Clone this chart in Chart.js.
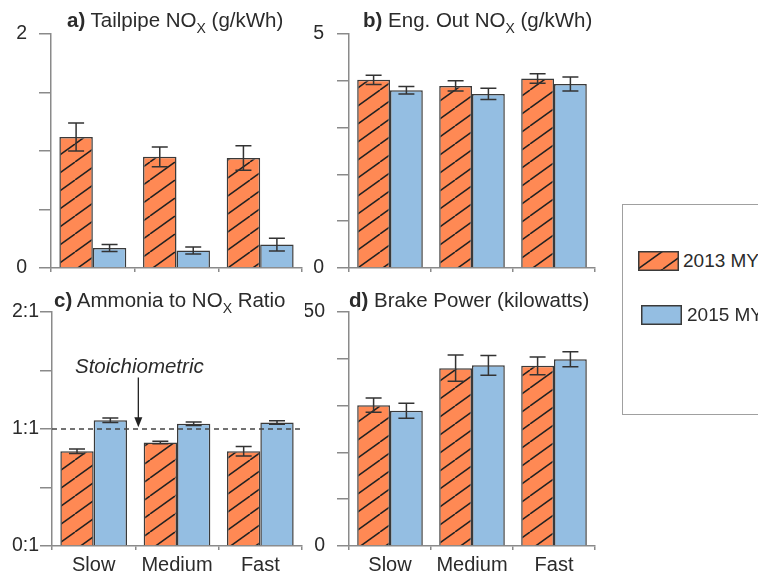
<!DOCTYPE html>
<html><head><meta charset="utf-8">
<script src="https://cdn.jsdelivr.net/npm/chart.js@4/dist/chart.umd.min.js"></script>
<style>
body{margin:0;background:#fff;width:758px;height:573px;overflow:hidden;position:relative;font-family:"Liberation Sans",Arial,sans-serif;color:#2b2b2b}
canvas{position:absolute}
.t{position:absolute;font-size:20.5px;line-height:20px;white-space:nowrap;color:#2b2b2b}
.t .s{font-size:14px;position:relative;top:6px}
#legend{position:absolute;left:622px;top:204px;width:200px;height:209px;border:1px solid #a0a0a0}
.lt{position:absolute;font-size:19px;line-height:19px;white-space:nowrap;color:#2b2b2b}
</style></head>
<body>
<canvas id="ca" width="305" height="280" style="left:0;top:0"></canvas>
<canvas id="cb" width="300" height="280" style="left:305px;top:0"></canvas>
<canvas id="cc" width="305" height="293" style="left:0;top:280px"></canvas>
<canvas id="cd" width="300" height="293" style="left:305px;top:280px"></canvas>
<div class="t" style="left:67px;top:10px"><b>a)</b> Tailpipe NO<span class="s">X</span> (g/kWh)</div>
<div class="t" style="left:363px;top:10px"><b>b)</b> Eng. Out NO<span class="s">X</span> (g/kWh)</div>
<div class="t" style="left:54px;top:290px"><b>c)</b> Ammonia to NO<span class="s">X</span> Ratio</div>
<div class="t" style="left:349px;top:290px"><b>d)</b> Brake Power (kilowatts)</div>
<div id="legend"></div>
<canvas id="sw1" width="41" height="20" style="left:638px;top:251px"></canvas>
<canvas id="sw2" width="41" height="20" style="left:641px;top:305px"></canvas>
<div class="lt" id="lg1" style="left:683px;top:251px"></div>
<div class="lt" id="lg2" style="left:687px;top:305px"></div>
<script>
// ---- data ----
const categories = ['Slow', 'Medium', 'Fast'];
const series = ['2013 MY', '2015 MY'];

const tailpipe2013 = [1.12, 0.95, 0.94];
const tailpipe2013Err = [0.12, 0.085, 0.105];
const tailpipe2015 = [0.17, 0.15, 0.20];
const tailpipe2015Err = [0.03, 0.03, 0.055];

const engOut2013 = [4.02, 3.89, 4.05];
const engOut2013Err = [0.10, 0.11, 0.10];
const engOut2015 = [3.80, 3.72, 3.93];
const engOut2015Err = [0.08, 0.12, 0.15];

const ratio2013 = [0.81, 0.885, 0.81];
const ratio2013Err = [0.02, 0.01, 0.04];
const ratio2015 = [1.075, 1.045, 1.055];
const ratio2015Err = [0.02, 0.015, 0.015];

const power2013 = [30.1, 38.0, 38.5];
const power2013Err = [1.5, 2.8, 1.9];
const power2015 = [28.9, 38.6, 39.9];
const power2015Err = [1.6, 2.1, 1.6];

const tailpipeTicks = ['0', '', '', '', '2'];
const engOutTicks = ['0', '', '', '', '', '5'];
const ratioTicks = ['0:1', '', '1:1', '', '2:1'];
const powerTicks = ['0', '', '', '', '', '50'];

const stoichiometric = 1;
const annotationText = 'Stoichiometric';
const arrowFrom = 1.44, arrowTo = 1.015, textAt = 1.48;

// ---- styles ----
const ORANGE = '#ff8954';
const BLUE = '#94bee2';
const EDGE = '#3a3a3a';
const AXIS = '#8a8a8a';
const TXT = '#2b2b2b';
const FAM = '"Liberation Sans", Arial, sans-serif';

function makeHatch() {
  const c = document.createElement('canvas');
  c.width = 25; c.height = 18;
  const x = c.getContext('2d');
  x.fillStyle = ORANGE; x.fillRect(0, 0, 25, 18);
  x.strokeStyle = '#222'; x.lineWidth = 1.5;
  for (let k = -1; k <= 1; k++) {
    x.beginPath(); x.moveTo(k * 25, 18); x.lineTo(k * 25 + 25, 0); x.stroke();
  }
  return c;
}
const hatchTile = makeHatch();

const errorBars = {
  id: 'errorBars',
  afterDatasetsDraw(chart) {
    const ctx = chart.ctx, y = chart.scales.y;
    ctx.save();
    ctx.strokeStyle = '#333'; ctx.lineWidth = 1.5;
    chart.data.datasets.forEach((ds, di) => {
      const meta = chart.getDatasetMeta(di);
      meta.data.forEach((bar, i) => {
        const v = ds.data[i], e = ds.errors[i];
        const yt = y.getPixelForValue(v + e), yb = y.getPixelForValue(v - e), x = bar.x, w = 8;
        ctx.beginPath();
        ctx.moveTo(x, yt); ctx.lineTo(x, yb);
        ctx.moveTo(x - w, yt); ctx.lineTo(x + w, yt);
        ctx.moveTo(x - w, yb); ctx.lineTo(x + w, yb);
        ctx.stroke();
      });
    });
    ctx.restore();
  }
};

const stoichPlugin = {
  id: 'stoich',
  afterDatasetsDraw(chart) {
    const ctx = chart.ctx, a = chart.chartArea, x = chart.scales.x, y = chart.scales.y;
    const yy = y.getPixelForValue(stoichiometric);
    ctx.save();
    ctx.setLineDash([5, 4]); ctx.strokeStyle = '#444'; ctx.lineWidth = 1.5;
    ctx.beginPath(); ctx.moveTo(a.left, yy); ctx.lineTo(a.right, yy); ctx.stroke();
    ctx.setLineDash([]);
    const ax = x.getPixelForValue(0.5) + 3;
    const top = y.getPixelForValue(arrowFrom), tip = y.getPixelForValue(arrowTo);
    ctx.strokeStyle = '#222'; ctx.lineWidth = 1.3;
    ctx.beginPath(); ctx.moveTo(ax, top); ctx.lineTo(ax, tip - 8); ctx.stroke();
    ctx.fillStyle = '#222';
    ctx.beginPath(); ctx.moveTo(ax - 4, tip - 10); ctx.lineTo(ax + 4, tip - 10); ctx.lineTo(ax, tip); ctx.closePath(); ctx.fill();
    ctx.font = 'italic 20.5px ' + FAM; ctx.textAlign = 'center'; ctx.textBaseline = 'alphabetic';
    ctx.fillStyle = TXT;
    ctx.fillText(annotationText, ax + 1, y.getPixelForValue(textAt));
    ctx.restore();
  }
};

function makeChart(id, d13, e13, d15, e15, max, step, tickLabels, cfg) {
  const canvas = document.getElementById(id);
  const pat = canvas.getContext('2d').createPattern(hatchTile, 'repeat');
  return new Chart(canvas, {
    type: 'bar',
    data: {
      labels: categories,
      datasets: [
        { label: series[0], data: d13, errors: e13, backgroundColor: pat, borderColor: EDGE, borderWidth: 1.5, categoryPercentage: 0.8, barPercentage: 1 },
        { label: series[1], data: d15, errors: e15, backgroundColor: BLUE, borderColor: EDGE, borderWidth: 1.5, categoryPercentage: 0.8, barPercentage: 1 }
      ]
    },
    options: {
      responsive: false, animation: false, devicePixelRatio: 1,
      layout: { padding: { top: cfg.top, right: cfg.right, left: 0, bottom: 0 } },
      plugins: { legend: { display: false }, tooltip: { enabled: false }, title: { display: false } },
      scales: {
        x: {
          grid: { offset: true, drawOnChartArea: false, drawTicks: true, tickLength: 4, color: AXIS, lineWidth: 1.5 },
          border: { color: AXIS, width: 1.5 },
          ticks: { display: cfg.showX, font: { size: 20, family: FAM }, color: TXT, padding: 3, maxRotation: 0 },
          afterFit(s) { s.height = cfg.xH; s.paddingLeft = 0; s.paddingRight = 0; }
        },
        y: {
          min: 0, max: max,
          ticks: { stepSize: step, autoSkip: false, callback: (v, i) => tickLabels[i], font: { size: 19.5, family: FAM }, color: TXT, padding: cfg.pad },
          grid: { drawOnChartArea: false, drawTicks: true, tickLength: 12, color: AXIS, lineWidth: 1.5 },
          border: { color: AXIS, width: 1.5 },
          afterFit(s) { s.width = cfg.yW; s.paddingTop = 0; s.paddingBottom = 0; }
        }
      }
    },
    plugins: cfg.extra ? [errorBars, cfg.extra] : [errorBars]
  });
}

makeChart('ca', tailpipe2013, tailpipe2013Err, tailpipe2015, tailpipe2015Err, 2, 0.5, tailpipeTicks,
  { top: 34, right: 3, showX: false, xH: 12, yW: 51, pad: 12 });
makeChart('cb', engOut2013, engOut2013Err, engOut2015, engOut2015Err, 5, 1, engOutTicks,
  { top: 34, right: 10, showX: false, xH: 12, yW: 44, pad: 13 });
makeChart('cc', ratio2013, ratio2013Err, ratio2015, ratio2015Err, 2, 0.5, ratioTicks,
  { top: 32, right: 3, showX: true, xH: 27, yW: 52, pad: 1, extra: stoichPlugin });
makeChart('cd', power2013, power2013Err, power2015, power2015Err, 50, 10, powerTicks,
  { top: 32, right: 10, showX: true, xH: 27, yW: 44, pad: 12 });

// legend swatches
(function () {
  const s1 = document.getElementById('sw1').getContext('2d');
  s1.fillStyle = s1.createPattern(hatchTile, 'repeat'); s1.fillRect(0, 0, 41, 20);
  s1.strokeStyle = EDGE; s1.lineWidth = 1.5; s1.strokeRect(0.75, 0.75, 39.5, 18.5);
  const s2 = document.getElementById('sw2').getContext('2d');
  s2.fillStyle = BLUE; s2.fillRect(0, 0, 41, 20);
  s2.strokeStyle = EDGE; s2.lineWidth = 1.5; s2.strokeRect(0.75, 0.75, 39.5, 18.5);
  document.getElementById('lg1').textContent = series[0];
  document.getElementById('lg2').textContent = series[1];
})();
</script>
</body></html>
